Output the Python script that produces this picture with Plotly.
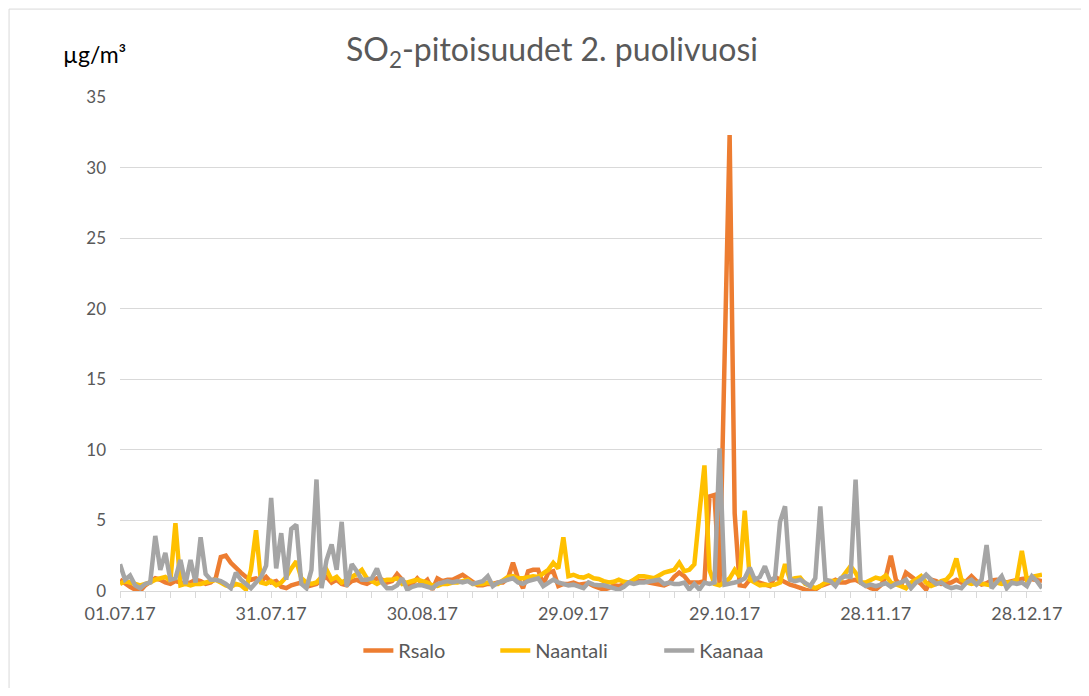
import pandas as pd
import plotly.graph_objects as go

dates = pd.date_range("2017-07-01", "2017-12-31", freq="D")

rsalo = [
    0.8, 0.5, 0.3, 0.1, 0.0, 0.4, 0.7, 0.9, 0.8, 0.6, 0.5, 0.7, 0.6, 0.5, 0.6, 0.8, 0.7, 0.5, 0.6, 0.9,
    2.4, 2.5, 2.0, 1.6, 1.3, 1.0, 0.8, 0.9, 0.7, 1.0,
    0.6, 0.7, 0.3, 0.2, 0.4, 0.5, 0.6, 0.3, 0.4, 0.5, 0.8, 1.0, 0.6, 0.8, 0.5, 0.4, 0.7, 0.8, 0.6, 0.5,
    0.7, 0.9, 0.8, 0.6, 0.7, 1.2, 0.8, 0.4, 0.5, 0.9,
    0.5, 0.8, 0.1, 0.9, 0.7, 0.8, 0.8, 1.0, 1.15, 0.9, 0.6, 0.4, 0.4, 0.5, 0.5, 0.6, 0.6, 0.9, 2.0, 0.9,
    0.2, 1.4, 1.5, 1.5, 0.45, 1.3, 1.4, 0.35, 0.5, 0.5,
    0.6, 0.45, 0.5, 0.55, 0.35, 0.2, 0.1, 0.2, 0.4, 0.35, 0.5, 0.6, 0.7, 0.7, 0.7, 0.6, 0.55, 0.45, 0.4, 0.55,
    1.0, 1.3, 1.05, 0.6, 0.6, 0.6, 0.7, 6.7, 6.8, 0.5,
    16.5, 32.3, 5.5, 0.4, 0.35, 0.8, 0.7, 0.6, 0.45, 0.35, 1.0, 0.8, 0.6, 0.45, 0.35, 0.2, 0.1, 0.0, 0.1, 0.35,
    0.45, 0.6, 0.8, 0.6, 0.6, 0.75, 0.8, 0.6, 0.35, 0.2,
    0.1, 0.4, 1.0, 2.5, 0.8, 0.35, 1.3, 1.05, 0.8, 0.5, 0.1, 0.8, 0.7, 0.5, 0.55, 0.6, 0.8, 0.6, 0.7, 1.05,
    0.7, 0.45, 0.55, 0.75, 0.8, 0.7, 0.6, 0.7, 0.8, 0.85,
    0.9, 0.85, 0.8, 0.7,
]

naantali = [
    0.5, 0.7, 0.6, 0.5, 0.4, 0.5, 0.6, 0.8, 0.9, 1.0, 0.7, 4.8, 0.4, 0.5, 0.4, 0.5, 0.5, 0.6, 0.7, 0.8,
    0.6, 0.4, 0.3, 0.5, 0.4, 0.1, 1.5, 4.3, 0.6, 0.5,
    0.7, 0.4, 0.6, 1.0, 1.6, 2.1, 0.9, 0.6, 0.5, 0.6, 1.0, 1.5, 0.8, 1.0, 0.6, 0.8, 1.0, 1.2, 1.5, 0.9,
    0.7, 0.5, 0.7, 0.8, 0.8, 0.9, 0.5, 0.6, 0.7, 0.8,
    0.7, 0.6, 0.4, 0.35, 0.5, 0.5, 0.6, 0.6, 0.7, 0.8, 0.5, 0.5, 0.5, 0.6, 0.5, 0.5, 0.8, 1.0, 1.05, 0.9,
    0.9, 1.0, 1.05, 1.0, 1.3, 1.5, 2.0, 1.6, 3.8, 1.05,
    1.15, 1.0, 0.95, 1.1, 0.9, 0.85, 0.7, 0.6, 0.65, 0.8, 0.65, 0.6, 0.8, 1.05, 1.05, 0.95, 0.9, 1.1, 1.3, 1.4,
    1.5, 2.0, 1.4, 1.5, 1.9, 5.5, 8.9, 1.5, 0.5, 0.4,
    0.6, 0.9, 1.5, 1.0, 5.7, 0.8, 0.6, 0.4, 0.45, 0.4, 0.45, 0.6, 1.9, 0.8, 0.9, 0.95, 0.5, 0.35, 0.2, 0.35,
    0.6, 0.7, 0.7, 0.8, 1.3, 1.75, 1.3, 0.6, 0.6, 0.8,
    0.95, 0.85, 1.1, 0.6, 0.5, 0.35, 0.2, 0.6, 0.8, 1.05, 0.6, 0.35, 0.5, 0.7, 0.8, 1.2, 2.3, 0.8, 0.6, 0.5,
    0.6, 0.5, 0.45, 0.4, 0.6, 0.5, 0.6, 0.6, 0.8, 2.85,
    0.8, 1.0, 1.05, 1.15,
]

kaanaa = [
    1.9, 0.8, 1.1, 0.4, 0.2, 0.5, 0.6, 3.9, 1.5, 2.7, 0.8, 0.9, 2.2, 0.5, 2.2, 0.6, 3.8, 1.2, 0.8, 0.8,
    0.7, 0.5, 0.2, 1.3, 0.8, 0.5, 0.2, 0.6, 1.0, 1.8,
    6.6, 1.6, 4.1, 0.8, 4.4, 4.7, 0.5, 0.2, 1.5, 7.9, 0.2, 2.2, 3.3, 1.5, 4.9, 0.3, 1.9, 1.4, 0.8, 0.8,
    0.9, 1.6, 0.6, 0.2, 0.2, 0.4, 0.9, 0.1, 0.3, 0.4,
    0.4, 0.3, 0.2, 0.5, 0.6, 0.7, 0.6, 0.7, 0.6, 0.7, 0.5, 0.6, 0.7, 1.05, 0.35, 0.6, 0.7, 0.8, 0.9, 0.6,
    0.5, 0.7, 0.8, 0.9, 0.35, 0.6, 0.8, 0.6, 0.5, 0.4,
    0.45, 0.3, 0.2, 0.6, 0.45, 0.4, 0.4, 0.3, 0.2, 0.1, 0.3, 0.6, 0.5, 0.6, 0.6, 0.65, 0.7, 0.8, 0.5, 0.6,
    0.5, 0.5, 0.6, 0.1, 0.5, 0.1, 0.6, 0.5, 0.6, 10.1,
    0.45, 0.5, 0.6, 0.7, 0.9, 1.65, 0.8, 1.0, 1.75, 0.8, 0.9, 4.9, 6.0, 0.8, 0.7, 0.8, 0.6, 0.35, 0.9, 6.0,
    0.8, 0.7, 0.35, 0.9, 1.05, 1.0, 7.9, 0.6, 0.35, 0.45,
    0.35, 0.45, 0.55, 0.3, 0.5, 0.6, 0.8, 0.2, 0.6, 0.8, 1.15, 0.8, 0.5, 0.6, 0.35, 0.2, 0.3, 0.2, 0.6, 0.8,
    0.45, 0.8, 3.25, 0.2, 0.6, 1.05, 0.2, 0.6, 0.5, 0.6,
    0.35, 1.05, 0.7, 0.2,
]

series_names = ["Rsalo", "Naantali", "Kaanaa"]
series_colors = ["#ED7D31", "#FFC000", "#A5A5A5"]

FONT = "Lato"
TXT = "#595959"
GRID = "#D9D9D9"

# page is offset by the 8px body margin; work in figure coordinates
W, H = 1073, 680
PL, PR, PT, PB = 111.5, 1034.0, 89.0, 583.5
pw, ph = PR - PL, PB - PT


def px(fx):
    return (fx - PL) / pw


def py(fy):
    return (PB - fy) / ph


legend_ids = ["legend", "legend2", "legend3"]
legend_x = [350, 487, 651]

fig = go.Figure()
for name, vals, col, lid in zip(series_names, [rsalo, naantali, kaanaa], series_colors, legend_ids):
    fig.add_trace(go.Scatter(x=dates, y=vals, mode="lines", name=name, legend=lid,
                             line=dict(color=col, width=4.5)))

leg_common = dict(orientation="h", xanchor="left", yanchor="middle", y=py(643),
                  font=dict(family=FONT, size=20, color=TXT), bgcolor="rgba(0,0,0,0)",
                  borderwidth=0)

fig.update_layout(
    width=W, height=H,
    paper_bgcolor="white", plot_bgcolor="white",
    margin=dict(l=PL, r=W - PR, t=PT, b=H - PB, autoexpand=False),
    font=dict(family=FONT, color=TXT, size=16),
    title=dict(text="SO<sub>2</sub>-pitoisuudet 2. puolivuosi", x=544 / W, xref="container",
               y=1 - 42 / H, yref="container", xanchor="center", yanchor="middle",
               font=dict(family=FONT, size=32, color=TXT)),
    legend=dict(x=px(legend_x[0]), **leg_common),
    legend2=dict(x=px(legend_x[1]), **leg_common),
    legend3=dict(x=px(legend_x[2]), **leg_common),
    showlegend=True,
)

fig.update_xaxes(
    type="date",
    range=[dates[0], dates[-1]],
    tickmode="linear", tick0=dates[0], dtick=30 * 86400000,
    tickformat="%d.%m.%y",
    showgrid=False, showline=True, linecolor=GRID, linewidth=1,
    ticks="outside", ticklen=6, tickcolor=GRID,
    minor=dict(ticks="outside", ticklen=6, tickcolor=GRID, dtick=5 * 86400000, tick0=dates[0], showgrid=False),
    tickfont=dict(family=FONT, size=18, color=TXT),
    ticklabelstandoff=0,
    zeroline=False,
)
fig.update_yaxes(
    range=[0, 35], tickmode="linear", tick0=0, dtick=5,
    showgrid=True, gridcolor=GRID, gridwidth=1,
    showline=False, zeroline=False, ticks="",
    tickfont=dict(family=FONT, size=17, color=TXT),
    ticklabelstandoff=13,
)

fig.add_annotation(text="µg/m³", xref="paper", yref="paper",
                   x=px(86), y=py(46), showarrow=False,
                   xanchor="center", yanchor="middle",
                   font=dict(family=FONT, size=23, color="#000000"))

# chart-area border
fig.add_shape(type="rect", xref="paper", yref="paper",
              x0=px(0.5), x1=px(W + 20), y0=py(H + 20), y1=py(1),
              line=dict(color=GRID, width=1), fillcolor="rgba(0,0,0,0)", layer="below")

fig.write_html("out.html")
